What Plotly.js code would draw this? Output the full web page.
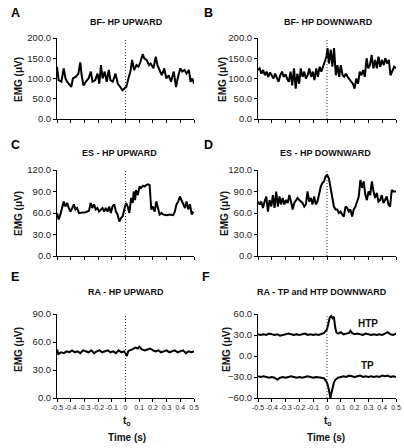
<!DOCTYPE html>
<html>
<head>
<meta charset="utf-8">
<script src="https://cdn.plot.ly/plotly-3.0.1.min.js"></script>
<style>html,body{margin:0;padding:0;background:#fff;}#chart{width:404px;height:448px;}</style>
</head>
<body>
<div id="chart"></div>
<script>
// ---- Data ----
const panelTitles = ['BF- HP UPWARD', 'BF- HP DOWNWARD', 'ES - HP UPWARD', 'ES - HP DOWNWARD', 'RA - HP UPWARD', 'RA - TP and HTP DOWNWARD'];
const panelLetters = ['A', 'B', 'C', 'D', 'E', 'F'];
const xTickVals = [-0.5, -0.4, -0.3, -0.2, -0.1, 0, 0.1, 0.2, 0.3, 0.4, 0.5];
const xTickText = ['-0.5', '-0.4', '-0.3', '-0.2', '-0.1', '0', '0.1', '0.2', '0.3', '0.4', '0.5'];

const tA = [-0.500,-0.488,-0.468,-0.451,-0.438,-0.426,-0.409,-0.396,-0.384,-0.364,-0.344,-0.330,-0.320,-0.307,-0.290,-0.270,-0.253,-0.241,-0.221,-0.204,-0.191,-0.179,-0.167,-0.152,-0.137,-0.122,-0.110,-0.093,-0.073,-0.056,-0.038,-0.023,-0.009,0.006,0.021,0.036,0.048,0.063,0.080,0.095,0.110,0.125,0.137,0.154,0.172,0.184,0.204,0.221,0.233,0.248,0.265,0.283,0.298,0.315,0.332,0.352,0.369,0.381,0.399,0.414,0.431,0.446,0.463,0.475,0.488,0.500];
const vA = [129,96,92,125,100,92,85,79,100,104,112,140,108,83,92,100,117,92,96,112,87,133,100,117,92,121,96,92,112,87,79,71,75,79,100,117,146,121,133,129,142,160,150,146,133,137,125,154,133,121,108,125,100,108,92,117,79,100,125,117,121,112,121,92,100,87];

const tB = [-0.500,-0.488,-0.475,-0.463,-0.450,-0.438,-0.426,-0.413,-0.401,-0.388,-0.376,-0.364,-0.351,-0.339,-0.326,-0.314,-0.301,-0.289,-0.277,-0.264,-0.252,-0.239,-0.227,-0.215,-0.202,-0.190,-0.177,-0.165,-0.153,-0.140,-0.128,-0.115,-0.103,-0.091,-0.078,-0.066,-0.053,-0.041,-0.029,-0.016,-0.004,0.004,0.014,0.027,0.039,0.051,0.064,0.076,0.088,0.100,0.113,0.125,0.136,0.150,0.163,0.175,0.187,0.200,0.212,0.225,0.237,0.250,0.262,0.274,0.287,0.299,0.311,0.324,0.336,0.349,0.361,0.373,0.386,0.398,0.411,0.423,0.435,0.448,0.460,0.473,0.487,0.500];
const vB = [121,125,112,121,108,117,104,115,108,100,112,100,92,108,117,104,110,100,92,117,83,125,75,112,87,125,104,117,100,108,125,104,117,96,125,104,129,117,129,142,154,175,137,171,129,175,108,133,104,133,108,104,112,104,96,92,87,75,100,87,117,108,121,104,150,125,133,158,125,146,125,154,129,146,133,150,137,146,108,117,129,125];

const tC = [-0.500,-0.488,-0.475,-0.463,-0.451,-0.439,-0.426,-0.414,-0.402,-0.389,-0.377,-0.365,-0.353,-0.340,-0.316,-0.291,-0.267,-0.254,-0.242,-0.230,-0.217,-0.205,-0.193,-0.181,-0.168,-0.156,-0.144,-0.131,-0.119,-0.107,-0.095,-0.082,-0.070,-0.058,-0.045,-0.033,-0.021,-0.009,0.004,0.016,0.028,0.041,0.053,0.060,0.070,0.077,0.090,0.102,0.114,0.127,0.139,0.151,0.163,0.176,0.188,0.200,0.213,0.225,0.237,0.249,0.262,0.274,0.299,0.323,0.348,0.360,0.372,0.385,0.397,0.409,0.421,0.434,0.446,0.458,0.471,0.483,0.495];
const vC = [60,51,58,67,76,69,74,67,62,67,72,65,67,60,60,61,63,74,67,72,65,67,62,65,67,62,67,62,69,60,69,72,62,58,48,53,55,65,74,69,60,81,74,90,78,92,85,97,95,98,97,99,100,99,65,69,62,76,65,58,60,58,57,58,57,62,72,76,83,78,74,67,76,65,72,58,62];

const tD = [-0.500,-0.488,-0.476,-0.464,-0.452,-0.440,-0.428,-0.416,-0.404,-0.392,-0.380,-0.368,-0.356,-0.344,-0.333,-0.321,-0.309,-0.297,-0.285,-0.273,-0.261,-0.249,-0.237,-0.225,-0.213,-0.201,-0.189,-0.177,-0.165,-0.153,-0.141,-0.129,-0.117,-0.105,-0.093,-0.081,-0.069,-0.057,-0.045,-0.033,-0.022,-0.010,0.002,0.014,0.026,0.038,0.050,0.062,0.074,0.086,0.098,0.110,0.122,0.134,0.146,0.158,0.170,0.182,0.194,0.206,0.218,0.230,0.242,0.254,0.266,0.278,0.289,0.301,0.313,0.325,0.337,0.349,0.361,0.373,0.385,0.397,0.409,0.421,0.433,0.445,0.457,0.469,0.481,0.500];
const vD = [76,72,76,67,76,83,62,78,69,85,67,90,69,83,72,81,72,78,74,85,76,65,74,78,81,78,76,74,69,72,90,76,81,72,83,72,76,88,97,102,104,111,113,108,95,81,69,65,65,60,62,58,55,69,67,62,65,55,65,69,78,83,106,95,104,85,78,90,85,104,90,81,88,76,78,85,74,78,83,72,69,92,90,90];

const tE = [-0.50,-0.49,-0.47,-0.45,-0.43,-0.41,-0.39,-0.37,-0.35,-0.33,-0.31,-0.29,-0.27,-0.25,-0.23,-0.21,-0.19,-0.17,-0.15,-0.13,-0.11,-0.09,-0.07,-0.05,-0.03,-0.01,0.00,0.01,0.02,0.03,0.05,0.07,0.09,0.10,0.12,0.14,0.16,0.18,0.20,0.22,0.24,0.26,0.28,0.30,0.32,0.34,0.36,0.38,0.40,0.42,0.44,0.46,0.48,0.50];
const vE = [52,47,49,48,50,49,51,49,50,48,51,50,49,51,48,50,51,49,50,51,49,50,48,51,49,50,48,45,50,51,52,54,53,55,52,51,52,53,51,50,51,49,50,51,49,50,51,49,50,51,48,50,49,50];

const tHTP = [-0.50,-0.48,-0.46,-0.44,-0.42,-0.40,-0.38,-0.36,-0.34,-0.32,-0.30,-0.28,-0.26,-0.24,-0.22,-0.20,-0.18,-0.16,-0.14,-0.12,-0.10,-0.08,-0.06,-0.04,-0.02,0.00,0.01,0.02,0.03,0.04,0.05,0.06,0.07,0.08,0.10,0.12,0.14,0.16,0.17,0.18,0.20,0.22,0.24,0.26,0.28,0.30,0.32,0.34,0.36,0.38,0.40,0.42,0.44,0.46,0.48,0.50];
const vHTP = [31,30,31,30,32,31,30,31,29,30,31,32,31,30,31,30,31,32,30,31,30,31,30,31,33,38,46,55,57,54,56,40,33,32,34,31,32,33,36,33,31,32,31,30,32,31,30,31,30,31,30,32,34,31,30,32];

const tTP = [-0.50,-0.48,-0.46,-0.44,-0.42,-0.40,-0.38,-0.36,-0.34,-0.32,-0.30,-0.28,-0.26,-0.24,-0.22,-0.20,-0.18,-0.16,-0.14,-0.12,-0.10,-0.08,-0.06,-0.04,-0.02,0.00,0.01,0.02,0.025,0.03,0.04,0.05,0.06,0.08,0.10,0.12,0.14,0.16,0.18,0.20,0.22,0.24,0.26,0.28,0.30,0.32,0.34,0.36,0.38,0.40,0.42,0.44,0.46,0.48,0.50];
const vTP = [-29,-30,-29,-30,-31,-30,-31,-34,-31,-30,-31,-30,-29,-30,-31,-30,-31,-30,-29,-30,-31,-30,-30,-31,-32,-38,-45,-57,-60,-55,-45,-38,-34,-31,-30,-29,-30,-28,-29,-30,-29,-28,-30,-29,-30,-29,-30,-29,-30,-28,-29,-28,-30,-29,-30];

// ---- Layout helpers ----
const W = 404, H = 448;
const FF = 'Liberation Sans, Arial, sans-serif';
const px = x => x / W;
const py = y => 1 - y / H;

const colX = [[57, 194], [258, 396]];
const rowY = [[38, 119], [170, 256], [314, 398]];
const yRanges = [[0, 200], [0, 200], [0, 120], [0, 120], [0, 90], [-60, 60]];
const yDticks = [50, 50, 30, 30, 30, 30];

const traceSets = [
  [[tA, vA]], [[tB, vB]], [[tC, vC]], [[tD, vD]], [[tE, vE]], [[tHTP, vHTP], [tTP, vTP]]
];

const data = [];
const layout = {
  width: W, height: H,
  margin: {l: 0, r: 0, t: 0, b: 0},
  paper_bgcolor: '#fff', plot_bgcolor: '#fff',
  showlegend: false,
  font: {family: FF, color: '#222'},
  annotations: [], shapes: []
};

for (let i = 0; i < 6; i++) {
  const col = i % 2, row = Math.floor(i / 2);
  const sfx = i === 0 ? '' : String(i + 1);
  const xa = 'x' + sfx, ya = 'y' + sfx;
  traceSets[i].forEach(([t, v]) => {
    data.push({x: t, y: v, xaxis: xa, yaxis: ya, type: 'scatter', mode: 'lines',
      line: {color: '#000', width: 2}, hoverinfo: 'skip'});
  });
  const showX = row === 2;
  layout['xaxis' + sfx] = {
    domain: [px(colX[col][0]), px(colX[col][1])], anchor: ya,
    range: [-0.5, 0.5], showgrid: false, zeroline: false,
    showline: true, linecolor: '#000', linewidth: 1,
    ticks: 'outside', ticklen: 3, tickcolor: '#000',
    tickmode: 'array', tickvals: xTickVals, ticktext: xTickText,
    tickangle: 0,
    showticklabels: showX, tickfont: {size: 7, family: FF, color: '#222'}
  };
  layout['yaxis' + sfx] = {
    domain: [py(rowY[row][1]), py(rowY[row][0])], anchor: xa,
    range: yRanges[i], dtick: yDticks[i], tick0: yRanges[i][0],
    showgrid: false, zeroline: false,
    showline: true, linecolor: '#000', linewidth: 1,
    ticks: 'outside', ticklen: 3, tickcolor: '#000',
    tickformat: '.1f', tickfont: {size: 9.5, family: FF, color: '#222'}
  };
  layout.shapes.push({type: 'line', xref: xa, yref: ya + ' domain', x0: 0, x1: 0, y0: 0, y1: 1,
    line: {color: '#333', width: 1, dash: '1px,2px'}});
}

function ann(text, x, y, size, extra) {
  layout.annotations.push(Object.assign({
    text: text, xref: 'paper', yref: 'paper', x: px(x), y: py(y),
    xanchor: 'center', yanchor: 'middle', showarrow: false,
    font: {family: FF, size: size, color: '#111'}
  }, extra || {}));
}

const letterPos = [[15, 13], [208, 13], [15, 145], [208, 145], [15, 277], [206, 277]];
const titlePos = [[126, 22], [328, 22], [119, 153], [325, 153], [126, 292], [322, 292]];
const yTitlePos = [[18, 80], [222, 80], [18, 214], [224, 214], [18, 350], [226, 350]];
for (let i = 0; i < 6; i++) {
  ann('<b>' + panelLetters[i] + '</b>', letterPos[i][0], letterPos[i][1], 12.5, {font: {family: FF, size: 12.5, color: '#000'}});
  ann('<b>' + panelTitles[i] + '</b>', titlePos[i][0], titlePos[i][1], 9);
  ann('<b>EMG (μV)</b>', yTitlePos[i][0], yTitlePos[i][1], 10, {textangle: -90});
}
ann('<b>t<sub>o</sub></b>', 127, 421, 10);
ann('<b>t<sub>o</sub></b>', 328, 421, 10);
ann('<b>Time (s)</b>', 127, 437, 10);
ann('<b>Time (s)</b>', 326, 437, 10);
ann('<b>HTP</b>', 368, 323, 10);
ann('<b>TP</b>', 367, 365, 10);

Plotly.newPlot('chart', data, layout, {staticPlot: true, displayModeBar: false});
</script>
</body>
</html>
